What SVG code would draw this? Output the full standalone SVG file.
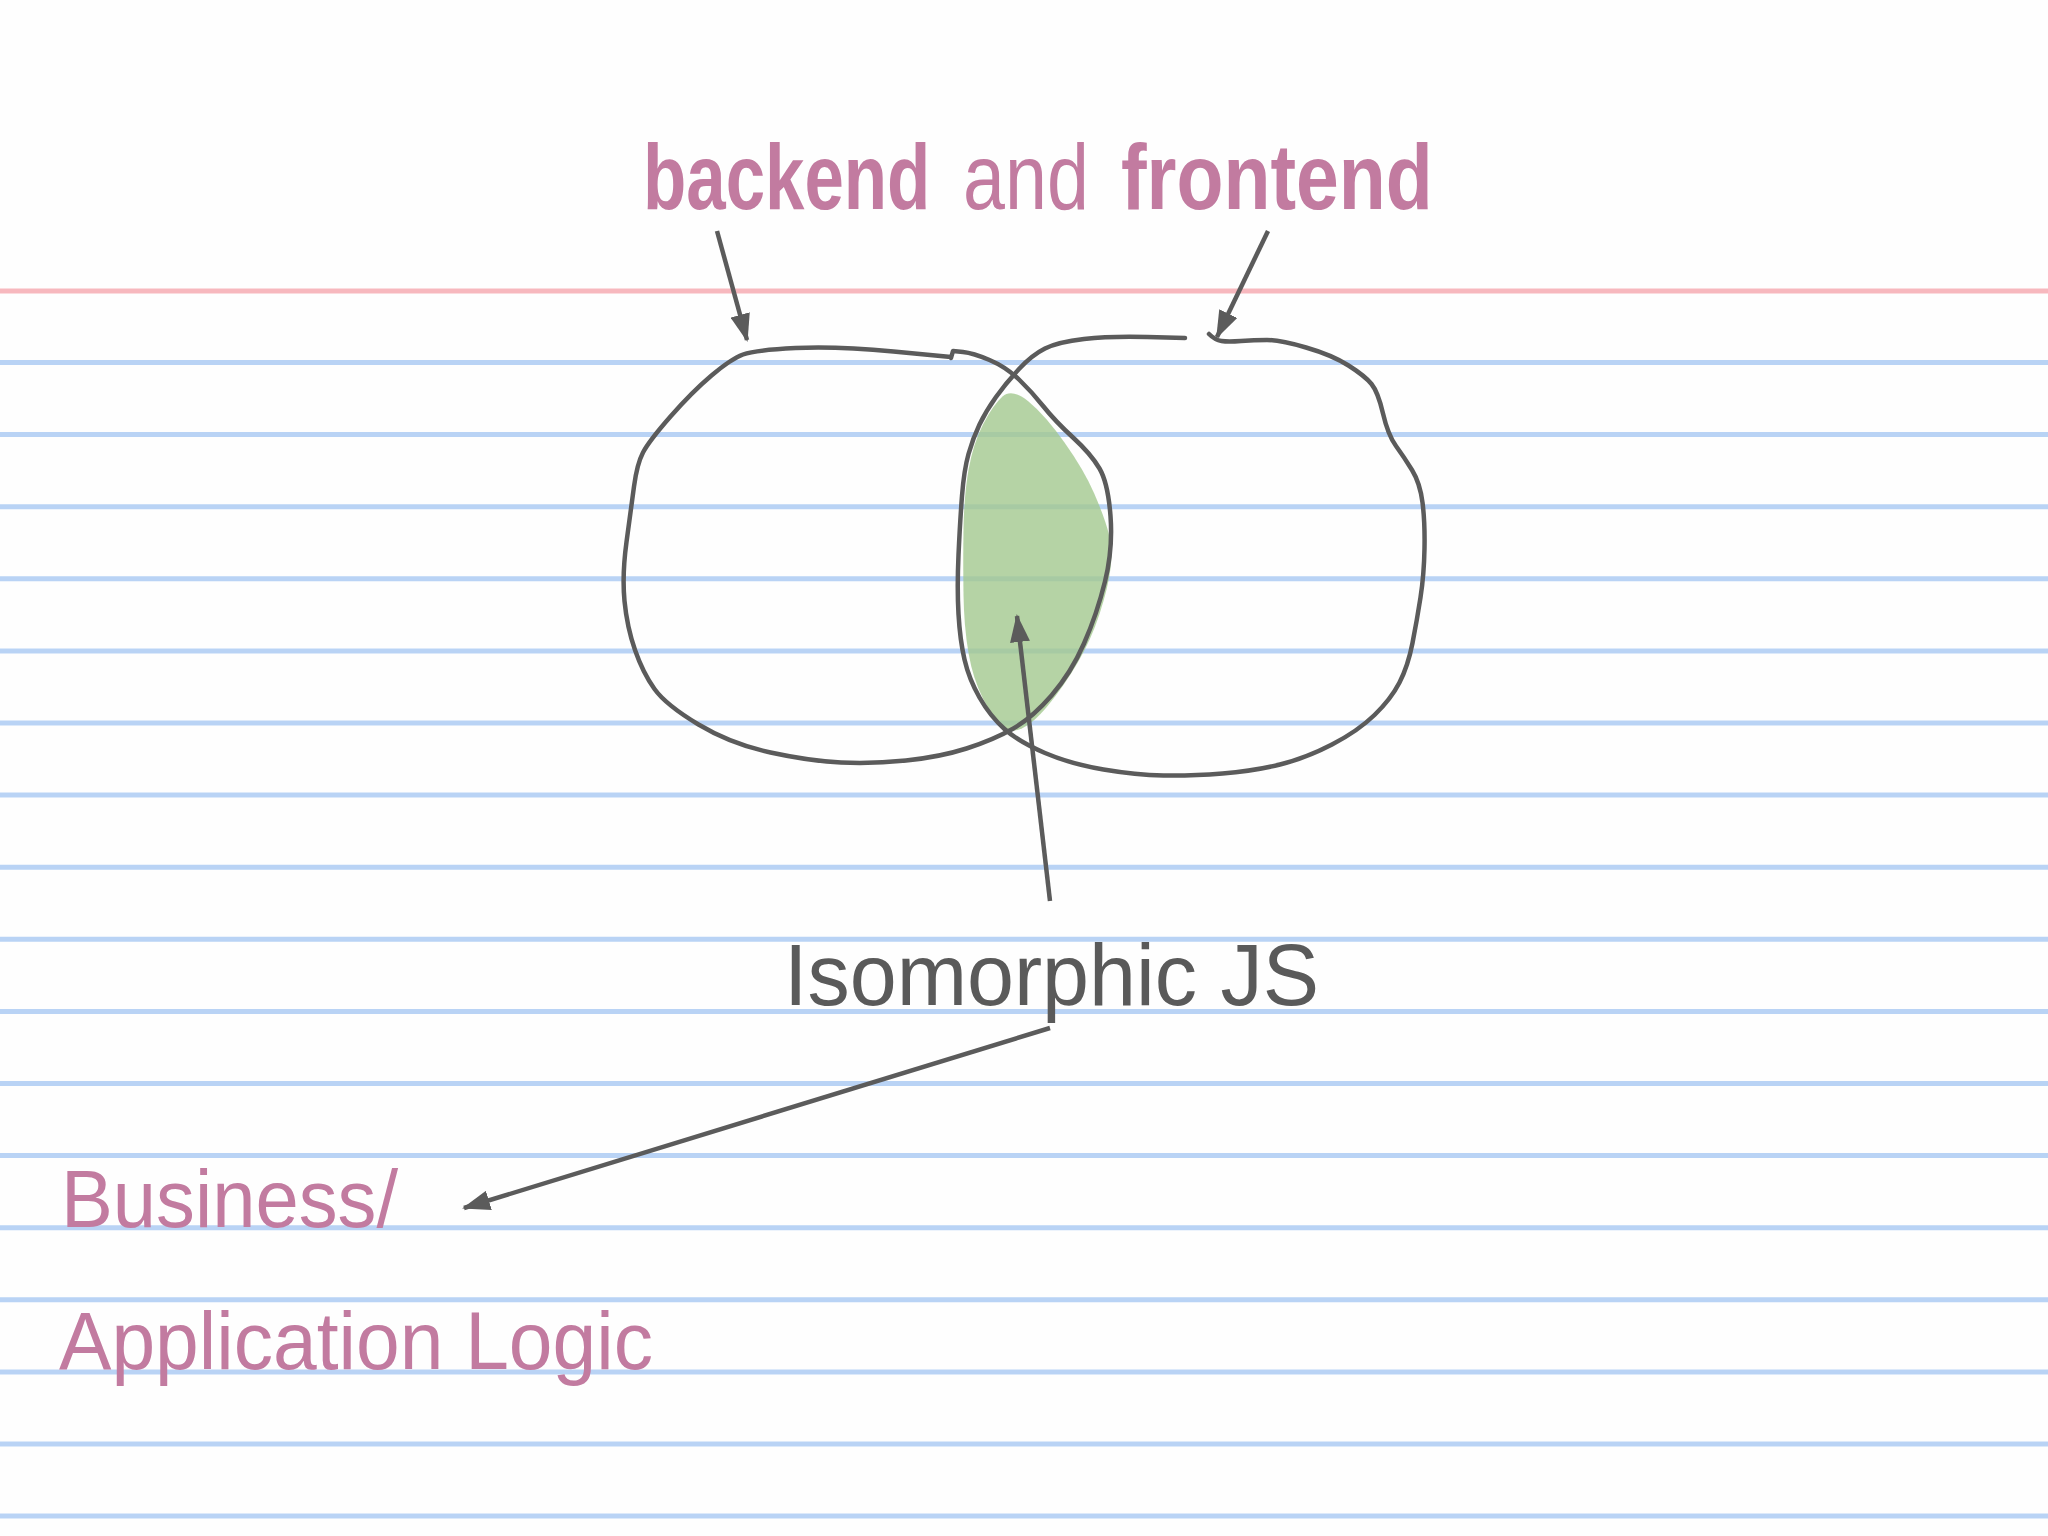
<svg xmlns="http://www.w3.org/2000/svg" width="2048" height="1536" viewBox="0 0 2048 1536">
<style>
.rule{stroke:#b9d3f5;stroke-width:5}
.red{stroke:#f7b8be;stroke-width:5}
.shape{fill:none;stroke:#5b5b5b;stroke-width:4.5;stroke-linecap:round;stroke-linejoin:round}
.conn{fill:none;stroke:#5b5b5b;stroke-width:4.5;stroke-linecap:butt}
.pink{fill:#c27ba0;font-family:"Liberation Sans","DejaVu Sans",sans-serif}
.gray{fill:#5a5a5a;font-family:"Liberation Sans","DejaVu Sans",sans-serif}
</style>
<defs>
<marker id="ah" markerUnits="userSpaceOnUse" markerWidth="28" markerHeight="20" viewBox="0 0 28 20" refX="26" refY="10" orient="auto">
<path d="M0,0 L28,10 L0,20 Z" fill="#5b5b5b"/>
</marker>
</defs>
<rect x="0" y="0" width="2048" height="1536" fill="#fefefe"/>
<g id="paper">
<line class="red" x1="0" y1="291" x2="2048" y2="291"/>
<line class="rule" x1="0" y1="362.5" x2="2048" y2="362.5"/>
<line class="rule" x1="0" y1="434.6" x2="2048" y2="434.6"/>
<line class="rule" x1="0" y1="506.7" x2="2048" y2="506.7"/>
<line class="rule" x1="0" y1="578.8" x2="2048" y2="578.8"/>
<line class="rule" x1="0" y1="650.9" x2="2048" y2="650.9"/>
<line class="rule" x1="0" y1="723" x2="2048" y2="723"/>
<line class="rule" x1="0" y1="795.1" x2="2048" y2="795.1"/>
<line class="rule" x1="0" y1="867.2" x2="2048" y2="867.2"/>
<line class="rule" x1="0" y1="939.3" x2="2048" y2="939.3"/>
<line class="rule" x1="0" y1="1011.4" x2="2048" y2="1011.4"/>
<line class="rule" x1="0" y1="1083.5" x2="2048" y2="1083.5"/>
<line class="rule" x1="0" y1="1155.6" x2="2048" y2="1155.6"/>
<line class="rule" x1="0" y1="1227.7" x2="2048" y2="1227.7"/>
<line class="rule" x1="0" y1="1299.8" x2="2048" y2="1299.8"/>
<line class="rule" x1="0" y1="1371.9" x2="2048" y2="1371.9"/>
<line class="rule" x1="0" y1="1444" x2="2048" y2="1444"/>
<line class="rule" x1="0" y1="1516.1" x2="2048" y2="1516.1"/>
</g>
<g id="overlap">
<path d="M1002.5,396.5 Q1012,388 1028.5,401.5 Q1045,415 1064.5,442.5 Q1084,470 1094,493 Q1104,516 1108.5,532.5 Q1113,549 1110.5,568.5 Q1108,588 1099.5,614 Q1091,640 1077.5,663 Q1064,686 1048,705.5 Q1032,725 1019,729.5 Q1006,734 999.5,726 Q993,718 983,698.5 Q973,679 968.5,653 Q964,627 963.5,594.5 Q963,562 963.5,529 Q964,496 968.5,470 Q973,444 983,424.5 Q993,405 1002.5,396.5 Z" fill="#a3c88f" fill-opacity="0.8"/>
</g>
<g id="backend-shape">
<path class="shape" d="M951,357 L893.5,351.5 Q836,346 795.5,348 Q755,350 743,354.5 Q731,359 711.5,375.5 Q692,392 670.5,416.5 Q649,441 643,452.5 Q637,464 634,486.5 Q631,509 626.5,542 Q622,575 624.5,601 Q627,627 635,650 Q643,673 654.5,689 Q666,705 698.5,724.5 Q731,744 770.5,752.5 Q810,761 841,762.5 Q872,764 906,760.5 Q940,757 966.5,748.5 Q993,740 1012.5,729 Q1032,718 1051.5,695.5 Q1071,673 1084,643.5 Q1097,614 1105,581.5 Q1113,549 1110.5,516 Q1108,483 1099.5,468.5 Q1091,454 1073,437.5 Q1055,421 1043.5,406.5 Q1032,392 1019,379.5 Q1006,367 989.5,360 Q973,353 963,352 L953,351 L951,358"/>
</g>
<g id="frontend-shape">
<path class="shape" d="M1185,338 L1147.5,337 Q1110,336 1084,339 Q1058,342 1045,348.5 Q1032,355 1019,369 Q1006,383 996,397 Q986,411 979.5,424.5 Q973,438 968.5,454 Q964,470 962,496 Q960,522 958.5,555 Q957,588 958.5,614 Q960,640 964.5,659.5 Q969,679 979.5,697.5 Q990,716 1004.5,729 Q1019,742 1045,753 Q1071,764 1103.5,769.5 Q1136,775 1163.5,775.5 Q1191,776 1222.5,773.5 Q1254,771 1280,764.5 Q1306,758 1332,744.5 Q1358,731 1374.5,715 Q1391,699 1399.5,682.5 Q1408,666 1412.5,643 Q1417,620 1420.5,597.5 Q1424,575 1424.5,548.5 Q1425,522 1422.5,502.5 Q1420,483 1412,470 Q1404,457 1396,446 Q1388,435 1383,413.5 Q1378,392 1371.5,384 Q1365,376 1348.5,365.5 Q1332,355 1306,347.5 Q1280,340 1267,340 Q1254,340 1241,341 Q1228,342 1221.5,341 Q1215,340 1209,334"/>
</g>
<g id="connectors">
<path class="conn" d="M717,231 L747,340" marker-end="url(#ah)"/>
<path class="conn" d="M1268,231 L1217,337" marker-end="url(#ah)"/>
<path class="conn" d="M1050,901 L1017,616" marker-end="url(#ah)"/>
<path class="conn" d="M1050,1028 L464,1208" marker-end="url(#ah)"/>
</g>
<g id="title">
<text class="pink" transform="translate(643,209) scale(0.77,1)" font-size="92" font-weight="bold">backend</text>
<text class="pink" transform="translate(963,209) scale(0.82,1)" font-size="92">and</text>
<text class="pink" transform="translate(1121,209) scale(0.836,1)" font-size="92" font-weight="bold">frontend</text>
</g>
<g id="isomorphic-label">
<text class="gray" x="784" y="1005" font-size="88" textLength="535" lengthAdjust="spacingAndGlyphs">Isomorphic JS</text>
</g>
<g id="business-label">
<text class="pink" x="61" y="1227" font-size="82" textLength="337" lengthAdjust="spacingAndGlyphs">Business/</text>
<text class="pink" x="59" y="1369" font-size="82" textLength="594" lengthAdjust="spacingAndGlyphs">Application Logic</text>
</g>
</svg>
